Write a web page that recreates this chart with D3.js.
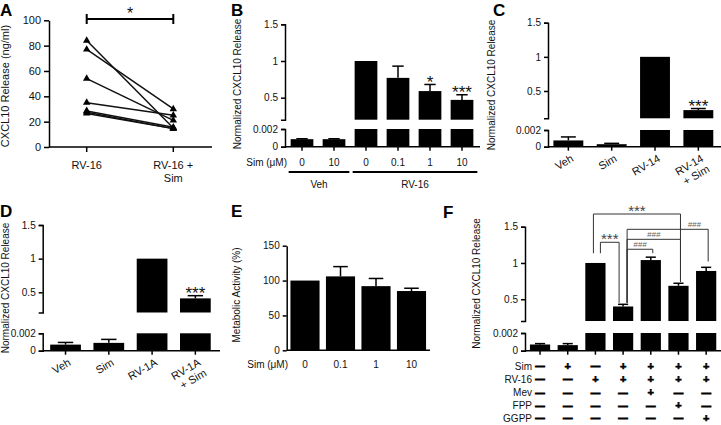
<!DOCTYPE html>
<html><head><meta charset="utf-8">
<script src="https://cdn.jsdelivr.net/npm/d3@7"></script>
<style>body{margin:0;background:#fff} svg{display:block}</style>
</head><body><svg id="c" width="721" height="425"></svg>
<script>
// ---------------- DATA ----------------
// Panel A (paired lines)
const aCategories = ["RV-16", "RV-16 +|Sim"];
const aRV16    = [84, 77, 54, 35, 28.5, 27.5, 26.5];
const aRV16Sim = [15, 30, 21, 25, 15.5, 14.5, 14.5];
const aTicks = [0, 20, 40, 60, 80, 100];

// Panel B
const bCategories = ["0", "10", "0", "0.1", "1", "10"];
const bValues = [0.00085, 0.00085, 1, 0.77, 0.59, 0.47];
const bErrors = [0.0009, 0.0009, 1, 0.93, 0.68, 0.54];
const bStars  = ["", "", "", "", "*", "***"];
const bGroups = [{label: "Veh", from: 0, to: 1}, {label: "RV-16", from: 2, to: 5}];

// Panel C
const cCategories = ["Veh", "Sim", "RV-14", "RV-14|+ Sim"];
const cValues = [0.00075, 0.0003, 1, 0.22];
const cErrors = [0.00117, 0.0004, 1, 0.243];
const cStars  = ["", "", "", "***"];

// Panel D
const dCategories = ["Veh", "Sim", "RV-1A", "RV-1A|+ Sim"];
const dValues = [0.0007, 0.0009, 1, 0.41];
const dErrors = [0.00095, 0.0013, 1, 0.45];
const dStars  = ["", "", "", "***"];

// Panel E
const eCategories = ["0", "0.1", "1", "10"];
const eValues = [100, 106, 92, 85];
const eErrors = [100, 120, 103, 89];
const eTicks  = [0, 50, 100, 150];

// Panel F
const fValues = [0.0007, 0.00063, 1, 0.40, 1.04, 0.685, 0.89];
const fErrors = [0.0008, 0.0008, 1, 0.43, 1.08, 0.72, 0.94];
const fRowLabels = ["Sim", "RV-16", "Mev", "FPP", "GGPP"];
const fRows = [
  ["-", "+", "-", "+", "+", "+", "+"],
  ["-", "-", "+", "+", "+", "+", "+"],
  ["-", "-", "-", "-", "+", "-", "-"],
  ["-", "-", "-", "-", "-", "+", "-"],
  ["-", "-", "-", "-", "-", "-", "+"]
];
const fBrackets = [
  {from: 2, to: 5, level: 1.675, fromEnd: 1.134, toEnd: 0.74, label: "***"},
  {from: 2, to: 3, level: 1.285, fromEnd: 1.134, toEnd: 0.45, label: "***"},
  {from: 3, to: 4, level: 1.189, fromEnd: 0.45, toEnd: 1.134, label: "###"},
  {from: 3, to: 5, level: 1.326, fromEnd: 0.45, toEnd: 0.74, label: "###"},
  {from: 3, to: 6, level: 1.464, fromEnd: 0.45, toEnd: 1.02, label: "###"}
];

const yBreakTicks = [0.5, 1, 1.5];
const yLowTicks = [0, 0.002];

// ---------------- DRAWING ----------------
const FONT = '"Liberation Sans", Arial, Helvetica, sans-serif';
const svg = d3.select("#c");
const fmt = d3.format("~g");

function styleAxis(g, fs) {
  g.select(".domain").attr("stroke", "#000").attr("stroke-width", 1.5).attr("fill", "none");
  g.selectAll(".tick line").attr("stroke", "#000").attr("stroke-width", 1.5);
  g.selectAll(".tick text").attr("fill", "#111").style("font-size", fs + "px").style("font-family", FONT);
}
function txt(g, x, y, s, fs, anchor) {
  return g.append("text").attr("x", x).attr("y", y).text(s)
    .style("font-family", FONT).style("font-size", fs + "px").attr("fill", "#111")
    .attr("text-anchor", anchor || "middle");
}
function panelLetter(s, x, y) {
  svg.append("text").attr("x", x).attr("y", y).text(s)
    .style("font-family", FONT).style("font-size", "17px").style("font-weight", "bold").attr("fill", "#000");
}
function yTitle(s, x, y, fs) {
  svg.append("text").attr("transform", `translate(${x},${y}) rotate(-90)`).attr("text-anchor", "middle")
    .text(s).style("font-family", FONT).style("font-size", fs + "px").attr("fill", "#111");
}
// star glyph centre sits about 6-7px above yTopPx
function stars(g, s, x, yTopPx, fs, color) {
  g.append("text").attr("x", x).attr("y", yTopPx - 7 + 0.6 * fs).text(s)
    .attr("text-anchor", "middle").style("font-family", FONT).style("font-size", fs + "px")
    .attr("fill", color || "#111");
}

function brokenPanel(o) {
  const g = svg.append("g");
  const n = o.values.length;
  const x = d3.scaleBand().domain(d3.range(n)).range(o.xRange).paddingInner(o.pad).paddingOuter(o.pad / 2);
  const yU = d3.scaleLinear().domain([o.upLow, 1.5]).range([o.upBottom, o.yTop]);
  const yL = d3.scaleLinear().domain([0, 0.002]).range([o.y0, o.lowTop]);
  const bw = x.bandwidth();
  o.values.forEach((v, i) => {
    const lv = Math.min(v, 0.002);
    g.append("rect").attr("x", x(i)).attr("y", yL(lv)).attr("width", bw).attr("height", yL(0) - yL(lv)).attr("fill", "#000");
    if (v > o.upLow) {
      g.append("rect").attr("x", x(i)).attr("y", yU(v)).attr("width", bw).attr("height", yU(o.upLow) - yU(v)).attr("fill", "#000");
    }
    const e = o.errors[i];
    if (e > v) {
      const sc = v > 0.002 ? yU : yL;
      const cx = x(i) + bw / 2;
      g.append("line").attr("x1", cx).attr("x2", cx).attr("y1", sc(v)).attr("y2", sc(e)).attr("stroke", "#000").attr("stroke-width", 1.5);
      g.append("line").attr("x1", cx - bw / 4).attr("x2", cx + bw / 4).attr("y1", sc(e)).attr("y2", sc(e)).attr("stroke", "#000").attr("stroke-width", 1.5);
    }
    if (o.stars && o.stars[i]) {
      const sc = e > 0.002 ? yU : yL;
      stars(g, o.stars[i], x(i) + bw / 2, sc(Math.max(e, v)), 17);
    }
  });
  g.append("g").attr("transform", `translate(${o.axisX},0)`)
    .call(d3.axisLeft(yU).tickValues(yBreakTicks).tickFormat(fmt).tickSize(4).tickSizeOuter(4).tickPadding(3))
    .call(styleAxis, 10);
  g.append("g").attr("transform", `translate(${o.axisX},0)`)
    .call(d3.axisLeft(yL).tickValues(yLowTicks).tickFormat(fmt).tickSize(4).tickSizeOuter(4).tickPadding(3))
    .call(styleAxis, 10);
  g.append("line").attr("x1", o.axisX).attr("x2", o.xEnd).attr("y1", o.y0).attr("y2", o.y0).attr("stroke", "#000").attr("stroke-width", 1.5);
  d3.range(n).forEach(i => {
    const cx = x(i) + bw / 2;
    g.append("line").attr("x1", cx).attr("x2", cx).attr("y1", o.y0).attr("y2", o.y0 + 4).attr("stroke", "#000").attr("stroke-width", 1.5);
  });
  return {g, x, yU, yL, bw};
}

function rotatedLabels(p, cats, y0) {
  cats.forEach((c, i) => {
    const cx = p.x(i) + p.bw / 2 + 6;
    const lines = c.split("|");
    const t = p.g.append("text").attr("transform", `translate(${cx},${y0 + 14}) rotate(-30)`)
      .attr("text-anchor", "end").style("font-family", FONT).style("font-size", "11px").attr("fill", "#111");
    lines.forEach((l, k) => t.append("tspan").attr("x", 0).attr("dy", k === 0 ? 0 : "1.1em").text(l));
  });
}

// ---------- Panel A ----------
(function () {
  const g = svg.append("g");
  const x = d3.scalePoint().domain(aCategories).range([86.7, 173.3]);
  const y = d3.scaleLinear().domain([0, 100]).range([147, 20.3]);
  g.append("g").attr("transform", "translate(49,0)")
    .call(d3.axisLeft(y).tickValues(aTicks).tickSize(5).tickSizeOuter(0).tickPadding(3))
    .call(styleAxis, 11);
  g.append("line").attr("x1", 49).attr("x2", 212).attr("y1", 147).attr("y2", 147).attr("stroke", "#000").attr("stroke-width", 1.5);
  aCategories.forEach(c => {
    g.append("line").attr("x1", x(c)).attr("x2", x(c)).attr("y1", 147).attr("y2", 152).attr("stroke", "#000").attr("stroke-width", 1.5);
    c.split("|").forEach((l, k) => txt(g, x(c), 169 + k * 13, l, 11));
  });
  aRV16.forEach((v, i) => {
    g.append("line").attr("x1", x(aCategories[0])).attr("y1", y(v)).attr("x2", x(aCategories[1])).attr("y2", y(aRV16Sim[i]))
      .attr("stroke", "#111").attr("stroke-width", 1.5);
  });
  const sym = d3.symbol().type(d3.symbolTriangle).size(24);
  aRV16.forEach((v, i) => {
    g.append("path").attr("d", sym).attr("transform", `translate(${x(aCategories[0])},${y(v)})`).attr("fill", "#000");
    g.append("path").attr("d", sym).attr("transform", `translate(${x(aCategories[1])},${y(aRV16Sim[i])})`).attr("fill", "#000");
  });
  const x1 = x(aCategories[0]), x2 = x(aCategories[1]), yb = 19;
  g.append("line").attr("x1", x1).attr("x2", x2).attr("y1", yb).attr("y2", yb).attr("stroke", "#000").attr("stroke-width", 2);
  [x1, x2].forEach(xx => g.append("line").attr("x1", xx).attr("x2", xx).attr("y1", yb - 5).attr("y2", yb + 5).attr("stroke", "#000").attr("stroke-width", 2));
  stars(g, "*", (x1 + x2) / 2, 16, 16);
  panelLetter("A", 0, 15.5);
  yTitle("CXCL10 Release (ng/ml)", 9, 86, 11);
})();

// ---------- Panel B ----------
(function () {
  const p = brokenPanel({values: bValues, errors: bErrors, stars: bStars, axisX: 285, xRange: [286, 478], xEnd: 480,
    pad: 0.29, yTop: 24.3, upLow: 0.2, upBottom: 119.7, y0: 146.7, lowTop: 129});
  txt(p.g, 287, 165.5, "Sim (\u03bcM)", 10, "end");
  bCategories.forEach((c, i) => txt(p.g, p.x(i) + p.bw / 2, 165.5, c, 10));
  bGroups.forEach(gr => {
    const xa = p.x(gr.from) - 2, xb = p.x(gr.to) + p.bw + 4;
    p.g.append("line").attr("x1", xa).attr("x2", xb).attr("y1", 172).attr("y2", 172).attr("stroke", "#000").attr("stroke-width", 2);
    txt(p.g, (xa + xb) / 2, 187.5, gr.label, 10);
  });
  panelLetter("B", 231, 15.5);
  yTitle("Normalized CXCL10 Release", 240.5, 84, 10);
})();

// ---------- Panel C ----------
(function () {
  const p = brokenPanel({values: cValues, errors: cErrors, stars: cStars, axisX: 548, xRange: [546.7, 720], xEnd: 721,
    pad: 0.31, yTop: 22.7, upLow: 0.1, upBottom: 118.3, y0: 146.7, lowTop: 130});
  rotatedLabels(p, cCategories, 146.7);
  panelLetter("C", 493, 16);
  yTitle("Normalized CXCL10 Release", 495, 85, 10);
})();

// ---------- Panel D ----------
(function () {
  const p = brokenPanel({values: dValues, errors: dErrors, stars: dStars, axisX: 42.7, xRange: [43.9, 217], xEnd: 220,
    pad: 0.29, yTop: 225, upLow: 0.2, upBottom: 312.5, y0: 350.7, lowTop: 333.3});
  rotatedLabels(p, dCategories, 350.7);
  panelLetter("D", 0, 217);
  yTitle("Normalized CXCL10 Release", 8.5, 288, 10);
})();

// ---------- Panel E ----------
(function () {
  const g = svg.append("g");
  const x = d3.scaleBand().domain(d3.range(eValues.length)).range([287.25, 429.25]).paddingInner(0.18).paddingOuter(0.09);
  const y = d3.scaleLinear().domain([0, 150]).range([350.3, 245.7]);
  const bw = x.bandwidth();
  eValues.forEach((v, i) => {
    g.append("rect").attr("x", x(i)).attr("y", y(v)).attr("width", bw).attr("height", y(0) - y(v)).attr("fill", "#000");
    const e = eErrors[i];
    if (e > v) {
      const cx = x(i) + bw / 2;
      g.append("line").attr("x1", cx).attr("x2", cx).attr("y1", y(v)).attr("y2", y(e)).attr("stroke", "#000").attr("stroke-width", 1.5);
      g.append("line").attr("x1", cx - bw / 4).attr("x2", cx + bw / 4).attr("y1", y(e)).attr("y2", y(e)).attr("stroke", "#000").attr("stroke-width", 1.5);
    }
  });
  g.append("g").attr("transform", "translate(286.7,0)")
    .call(d3.axisLeft(y).tickValues(eTicks).tickSize(4).tickSizeOuter(0).tickPadding(3))
    .call(styleAxis, 10);
  g.append("line").attr("x1", 286.7).attr("x2", 430).attr("y1", 350.3).attr("y2", 350.3).attr("stroke", "#000").attr("stroke-width", 1.5);
  txt(g, 288, 367.5, "Sim (\u03bcM)", 10, "end");
  eCategories.forEach((c, i) => txt(g, x(i) + bw / 2, 367.5, c, 10));
  panelLetter("E", 231, 217);
  yTitle("Metabolic Activity (%)", 240, 295, 10);
})();

// ---------- Panel F ----------
(function () {
  const p = brokenPanel({values: fValues, errors: fErrors, axisX: 525, xRange: [526.2, 720], xEnd: 721,
    pad: 0.27, yTop: 226.7, upLow: 0.2, upBottom: 321, y0: 350.7, lowTop: 333});
  const cxs = d3.range(fValues.length).map(i => p.x(i) + p.bw / 2);
  const rowY = [366, 379.2, 392.4, 405.4, 418.3];
  fRowLabels.forEach((l, r) => {
    txt(p.g, 532, rowY[r] + 3.5, l, 10, "end");
    fRows[r].forEach((s, i) => {
      const plus = s === "+";
      p.g.append("text").attr("x", cxs[i]).attr("y", rowY[r] + (plus ? 3.9 : 3.1)).attr("text-anchor", "middle")
        .text(plus ? "+" : "\u2014").style("font-family", FONT).style("font-size", plus ? "11px" : "9px")
        .style("font-weight", "bold").attr("fill", "#000")
        .attr("stroke", "#000").attr("stroke-width", plus ? 0.6 : 1.3);
    });
  });
  fBrackets.forEach(b => {
    const fx = cxs[b.from] + (b.from === 2 ? (b.to === 3 ? 5 : -2) : 4);
    const tx = cxs[b.to] + (b.to === 3 ? -4 : 2);
    const yl = p.yU(b.level);
    p.g.append("path").attr("d", `M${fx},${p.yU(b.fromEnd)}V${yl}H${tx}V${p.yU(b.toEnd)}`)
      .attr("fill", "none").attr("stroke", "#333").attr("stroke-width", 1);
    if (b.label === "***") {
      stars(p.g, b.label, (fx + tx) / 2, yl, 15, "#444");
    } else {
      const lx = b.to === 6 ? (cxs[5] + 2 + tx) / 2 : (fx + tx) / 2;
      p.g.append("text").attr("x", lx).attr("y", yl - 2).attr("text-anchor", "middle").text(b.label)
        .style("font-family", FONT).style("font-size", "8px").style("font-style", "italic").attr("fill", "#666");
    }
  });
  panelLetter("F", 443, 218);
  yTitle("Normalized CXCL10 Release", 480, 283.5, 10);
})();
</script>
</body></html>
